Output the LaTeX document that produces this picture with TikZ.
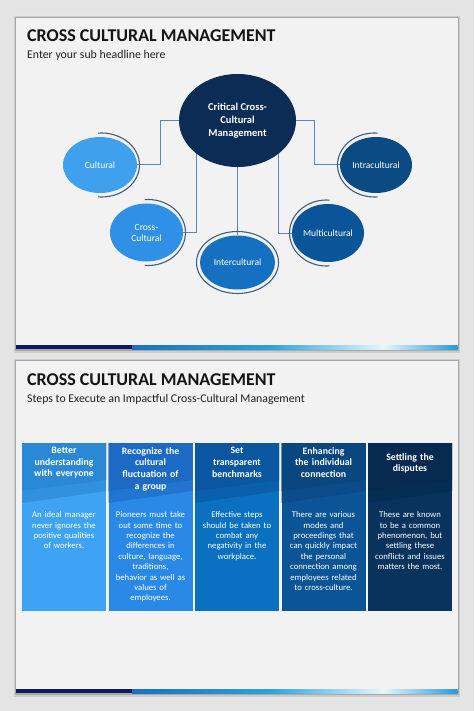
\documentclass[tikz,border=0pt]{standalone}
\usepackage{fontspec}
\setmainfont{Carlito}
\usetikzlibrary{shapes.geometric,calc}
\pgfdeclarelayer{bg}
\pgfdeclarelayer{lines}
\pgfsetlayers{bg,lines,main}
\definecolor{pagebg}{HTML}{E4E4E4}
\definecolor{slidebg}{HTML}{F2F2F2}
\definecolor{barnavy}{HTML}{0B1A5A}
\definecolor{barA}{HTML}{1B6FC0}
\definecolor{barB}{HTML}{2AA3DC}
\definecolor{barC}{HTML}{E6F6FC}
\definecolor{barD}{HTML}{2A98D8}
\definecolor{critc}{HTML}{0B2D55}
\definecolor{culc}{HTML}{3FA0EE}
\definecolor{intrac}{HTML}{0B4A82}
\definecolor{crossc}{HTML}{3090E6}
\definecolor{interc}{HTML}{1670C2}
\definecolor{multic}{HTML}{0A5597}
\definecolor{ringc}{HTML}{3F5E7E}
\definecolor{connc}{HTML}{5A88B0}
\definecolor{hA}{HTML}{2B88D4}\definecolor{bA}{HTML}{3EA3F2}
\definecolor{hB}{HTML}{1C6AC4}\definecolor{bB}{HTML}{2A89E6}
\definecolor{hC}{HTML}{0A56A0}\definecolor{bC}{HTML}{0A70C0}
\definecolor{hD}{HTML}{0A4680}\definecolor{bD}{HTML}{0B5596}
\definecolor{hE}{HTML}{062A50}\definecolor{bE}{HTML}{07335C}
\begin{document}
\begin{tikzpicture}[x=1pt,y=-1pt,
  ell/.style={ellipse, inner sep=0pt, text=white, align=center, font=\fontsize{9.5}{11}\selectfont},
  ring/.style={draw=ringc, line width=1.1pt},
  conn/.style={draw=connc, line width=1pt},
  ttl/.style={anchor=base west, inner sep=0pt, text=black!92, font=\bfseries\fontsize{18}{20}\selectfont},
  sub/.style={anchor=base west, inner sep=0pt, text=black!88, font=\fontsize{11.8}{14}\selectfont},
  htxt/.style={anchor=north, inner sep=0pt, text=white, align=center, text width=82pt, font=\bfseries\fontsize{9.8}{11.7}\selectfont},
  btxt/.style={anchor=north, inner sep=0pt, text=white, align=center, text width=84pt, font=\fontsize{8.7}{10.4}\selectfont}
]
\useasboundingbox (0,0) rectangle (474,711);
\begin{pgfonlayer}{bg}
\fill[pagebg] (0,0) rectangle (474,711);
\foreach \t/\b in {18/349,361/693}{
  \fill[black!10] (12.5,\t-3.5) rectangle (461,\b+5);
  \fill[black!20] (14,\t-2) rectangle (459.5,\b+3.5);
  \fill[black!34] (15,\t-1) rectangle (458.5,\b+2);
  \fill[slidebg] (16,\t) rectangle (457.5,\b);
  \fill[barnavy] (16,\b-4) rectangle (132,\b);
  \shade[left color=barA, right color=barB] (132,\b-4) rectangle (270,\b);
  \shade[left color=barB, right color=barC] (270,\b-4) rectangle (383,\b);
  \shade[left color=barC, right color=barD] (383,\b-4) rectangle (457.5,\b);
}
\end{pgfonlayer}

% ---------- slide 1 ----------
\node[ttl] (t1) at (27,41.7) {CROSS CULTURAL MANAGEMENT};
\node[sub] (s1) at (27,58.3) {Enter your sub headline here};

\node[ell, fill=critc, minimum width=117pt, minimum height=93pt, font=\bfseries\fontsize{10.5}{13}\selectfont] (crit) at (237.5,120.5) {Critical Cross-\\Cultural\\Management};
\node[ell, fill=culc, minimum width=74pt, minimum height=56pt] (cul) at (100,165) {Cultural};
\node[ell, fill=intrac, minimum width=72pt, minimum height=56pt] (intra) at (376,165) {Intracultural};
\node[ell, fill=crossc, minimum width=73pt, minimum height=58pt] (cross) at (146.5,232.5) {Cross-\\Cultural};
\node[ell, fill=interc, minimum width=75pt, minimum height=54pt] (inter) at (237.5,262.5) {Intercultural};
\node[ell, fill=multic, minimum width=72pt, minimum height=58pt] (multi) at (328,233) {Multicultural};

% rings
\draw[ring] ($(cul.center)+(1.5,0)$) ++(-95:38 and 32) arc[start angle=-95, end angle=95, x radius=38, y radius=32];
\draw[ring] ($(cross.center)+(1.5,0)$) ++(-95:37.5 and 33) arc[start angle=-95, end angle=95, x radius=37.5, y radius=33];
\draw[ring] ($(intra.center)+(-1.5,0)$) ++(-85:37 and 32) arc[start angle=-85, end angle=-275, x radius=37, y radius=32];
\draw[ring] ($(multi.center)+(-1.5,0)$) ++(-85:37 and 33) arc[start angle=-85, end angle=-275, x radius=37, y radius=33];
\draw[ring] (inter.center) ellipse[x radius=41, y radius=31];

% connectors
\begin{pgfonlayer}{lines}
\draw[conn] (cul.east) -- ++(23,0) |- (crit.west);
\draw[conn] (crit.east) -- ++(18,0) |- (intra.west);
\draw[conn] (cross.east) -| ($(crit.center)+(-41.5,0)$);
\draw[conn] (inter.north) -- (crit.center);
\draw[conn] (multi.west) -| ($(crit.center)+(40.5,0)$);
\end{pgfonlayer}

% ---------- slide 2 ----------
\node[ttl] (t2) at (27,385) {CROSS CULTURAL MANAGEMENT};
\node[sub] (s2) at (27,402.7) {Steps to Execute an Impactful Cross-Cultural Management};

\begin{pgfonlayer}{lines}
\foreach \i/\hc/\bc in {0/hA/bA,1/hB/bB,2/hC/bC,3/hD/bD,4/hE/bE}{
  \pgfmathsetmacro\xl{22+\i*86.5}
  \fill[\bc] (\xl,443) rectangle (\xl+84,611);
  \fill[\hc!65!\bc] (\xl,443) -- (\xl+84,443) -- (\xl+84,491) -- (\xl,503) -- cycle;
  \fill[\hc] (\xl,443) -- (\xl+84,443) -- (\xl+84,480) -- (\xl,491) -- cycle;
}
\end{pgfonlayer}

\node[htxt] (h1) at (64,447) {Better\\understanding\\with everyone};
\node[htxt] (h2) at (150.5,447) {Recognize the\\cultural\\fluctuation of\\a group};
\node[htxt] (h3) at (237,447) {Set\\transparent\\benchmarks};
\node[htxt] (h4) at (323.5,447) {Enhancing\\the individual\\connection};
\node[htxt] (h5) at (410,453) {Settling the\\disputes};

\node[btxt] (d1) at (64,511.5) {An ideal manager\\never ignores the\\positive qualities\\of workers.};
\node[btxt] (d2) at (150.5,511.5) {Pioneers must take\\out some time to\\recognize the\\differences in\\culture, language,\\traditions,\\behavior as well as\\values of\\employees.};
\node[btxt] (d3) at (237,511.5) {Effective steps\\should be taken to\\combat any\\negativity in the\\workplace.};
\node[btxt] (d4) at (323.5,511.5) {There are various\\modes and\\proceedings that\\can quickly impact\\the personal\\connection among\\employees related\\to cross-culture.};
\node[btxt] (d5) at (410,511.5) {These are known\\to be a common\\phenomenon, but\\settling these\\conflicts and issues\\matters the most.};
\end{tikzpicture}
\end{document}
